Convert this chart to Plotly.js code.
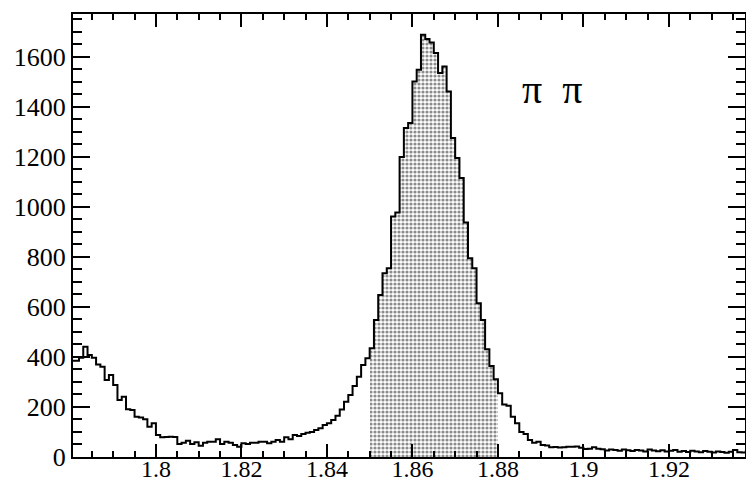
<!DOCTYPE html>
<html>
<head>
<meta charset="utf-8">
<script src="https://cdn.plot.ly/plotly-3.0.1.min.js"></script>
<style>html,body{margin:0;padding:0;background:#fff;}#chart{width:746px;height:482px;}</style>
</head>
<body>
<div id="chart"></div>
<script>
// Histogram: bins of width 0.001 starting at 1.780
const binStart = 1.780;
const binWidth = 0.001;
const counts = [
  385, 385, 397, 441, 408, 397, 370, 361, 308, 328,
  288, 228, 241, 191, 188, 161, 158, 151, 121, 135,
  88, 79, 80, 81, 80, 52, 57, 65, 52, 59,
  45, 57, 61, 61, 71, 52, 61, 57, 48, 41,
  55, 52, 57, 57, 61, 61, 55, 61, 68, 61,
  79, 71, 88, 84, 92, 97, 100, 108, 115, 128,
  135, 148, 165, 190, 221, 248, 284, 321, 368, 395,
  435, 548, 648, 735, 755, 961, 977, 1199, 1315, 1335,
  1501, 1548, 1688, 1671, 1657, 1615, 1535, 1561, 1461, 1275,
  1195, 1115, 937, 795, 755, 615, 548, 431, 364, 311,
  255, 210, 205, 161, 135, 100, 92, 68, 57, 61,
  48, 46, 39, 40, 38, 39, 41, 41, 42, 37,
  32, 33, 39, 33, 31, 26, 30, 28, 25, 30,
  27, 24, 28, 26, 22, 30, 26, 23, 27, 22,
  25, 28, 21, 24, 20, 25, 22, 19, 24, 21,
  18, 22, 20, 17, 21, 28, 19, 18, 22, 20
];
// Signal window (shaded)
const sigLow = 1.850;
const sigHigh = 1.880;
const label = "π  π";
const xTickVals = [1.8, 1.82, 1.84, 1.86, 1.88, 1.9, 1.92];
const xTickText = ["1.8", "1.82", "1.84", "1.86", "1.88", "1.9", "1.92"];
const yTickVals = [0, 200, 400, 600, 800, 1000, 1200, 1400, 1600];

// step line
const edges = counts.map((_, i) => binStart + i * binWidth);
const stepX = edges.concat([binStart + counts.length * binWidth]);
const stepY = counts.concat([counts[counts.length - 1]]);

// shaded bars
const barX = [], barY = [];
counts.forEach((c, i) => {
  const lo = binStart + i * binWidth;
  if (lo >= sigLow - 1e-9 && lo + binWidth <= sigHigh + 1e-9) {
    barX.push(lo + binWidth / 2);
    barY.push(c);
  }
});

const FAM = "Liberation Serif";

const traces = [
  {
    type: "bar", x: barX, y: barY, width: binWidth,
    marker: {color: "#ffffff", line: {width: 0},
      pattern: {shape: ".", size: 4, solidity: 0.5, fgcolor: "#8c8c8c", bgcolor: "#ffffff", fillmode: "replace"}},
    hoverinfo: "skip", showlegend: false
  },
  {
    type: "scatter", mode: "lines", x: stepX, y: stepY,
    line: {shape: "hv", color: "#000", width: 2},
    showlegend: false
  }
];

const layout = {
  width: 746, height: 482,
  margin: {l: 73, r: 1, t: 14, b: 25, pad: 0},
  paper_bgcolor: "#fff", plot_bgcolor: "#fff",
  bargap: 0,
  font: {family: FAM, size: 25, color: "#000"},
  xaxis: {
    range: [1.7806, 1.9378], showgrid: false, zeroline: false,
    showline: true, linecolor: "#000", linewidth: 2, mirror: "ticks",
    ticks: "inside", ticklen: 13, tickwidth: 2, tickcolor: "#000",
    tickvals: xTickVals, ticktext: xTickText,
    tickfont: {family: FAM, size: 24, color: "#000"},
    ticklabelstandoff: -11,
    minor: {dtick: 0.005, tick0: 1.78, ticks: "inside", ticklen: 6, tickwidth: 2, tickcolor: "#000", showgrid: false}
  },
  yaxis: {
    range: [0, 1771], showgrid: false, zeroline: false,
    showline: true, linecolor: "#000", linewidth: 2, mirror: "ticks",
    ticks: "inside", ticklen: 17, tickwidth: 2, tickcolor: "#000",
    tickvals: yTickVals,
    tickfont: {family: FAM, size: 26, color: "#000"},
    minor: {dtick: 50, tick0: 0, ticks: "inside", ticklen: 9, tickwidth: 2, tickcolor: "#000", showgrid: false}
  },
  annotations: [{
    xref: "paper", yref: "paper", x: 0.76, y: 0.885,
    text: label, showarrow: false,
    font: {family: FAM, size: 40, color: "#000"}
  }]
};

Plotly.newPlot("chart", traces, layout, {staticPlot: true, displayModeBar: false});
</script>
</body>
</html>
